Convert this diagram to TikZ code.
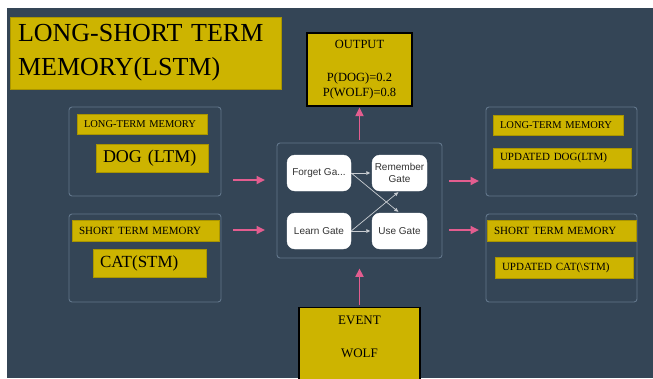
\documentclass[tikz,border=0pt]{standalone}
\usepackage{fontspec}
\setmainfont{Liberation Serif}
\newfontfamily\gatefont{Liberation Sans}
\usetikzlibrary{arrows.meta}
\definecolor{bgslate}{HTML}{344556}
\definecolor{ylw}{HTML}{CDB400}
\definecolor{ylwedge}{HTML}{A99500}
\definecolor{boxedge}{HTML}{62768B}
\definecolor{pinkarrow}{HTML}{E35D8F}
\definecolor{gatearrow}{HTML}{C9CDD2}
\definecolor{gatetext}{HTML}{333333}
\begin{document}
\begin{tikzpicture}[x=1pt,y=-1pt,
  panel/.style={draw=boxedge,line width=0.9pt,rounded corners=3pt,inner sep=0pt},
  ylabel/.style={fill=ylw,draw=ylwedge,line width=0.4pt,inner xsep=7pt,inner ysep=0pt,align=left},
  blackbox/.style={draw=black,line width=1.2pt,fill=ylw},
  gate/.style={fill=white,draw=white,rounded corners=8pt,inner sep=0pt,align=center,
    font=\gatefont\fontsize{10}{12.5}\selectfont,text=gatetext,minimum height=36pt},
  pinkarr/.style={draw=pinkarrow,line width=1.8pt,-{Triangle[length=8.5pt,width=8pt]}},
  gatearr/.style={draw=gatearrow,line width=0.7pt,-{Triangle[length=4pt,width=3.5pt]},shorten >=1.5pt}
]
\fill[white] (0,0) rectangle (653,378);
\useasboundingbox (0,0) rectangle (653,378);
\clip (0,0) rectangle (653,378);
\fill[bgslate] (7,8) rectangle (653,378);

% title
\node[ylabel,inner xsep=8pt,text width=255pt,minimum height=72pt,
  font=\fontsize{26}{34}\selectfont] (title) at (145.5,53) {LONG-SHORT TERM\\MEMORY(LSTM)};

% output
\node[blackbox,minimum width=105pt,minimum height=73pt,align=center,inner sep=0pt,
  font=\fontsize{12.5}{15}\selectfont] (output) at (359.5,69.5)
  {OUTPUT\\[18pt]P(DOG)=0.2\\P(WOLF)=0.8};

% left panels
\node[panel,minimum width=152pt,minimum height=89pt] (ltmL) at (145,151.5) {};
\node[ylabel,text width=116pt,minimum height=20pt,font=\fontsize{10.5}{12}\selectfont]
  (ltmLlab) at (142,124) {LONG-TERM MEMORY};
\node[ylabel,text width=98pt,minimum height=28pt,font=\fontsize{18}{20}\selectfont]
  (dog) at (152,158) {DOG (LTM)};
\node[panel,minimum width=152pt,minimum height=88pt] (stmL) at (145,258) {};
\node[ylabel,text width=133pt,minimum height=21pt,font=\fontsize{11}{13}\selectfont]
  (stmLlab) at (145.5,230.5) {SHORT TERM MEMORY};
\node[ylabel,text width=99pt,minimum height=28pt,font=\fontsize{17}{19}\selectfont]
  (cat) at (149.5,263) {CAT(STM)};

% center
\node[panel,minimum width=165pt,minimum height=115pt] (center) at (359.5,200.5) {};
\node[gate,minimum width=64pt] (forget) at (319,173) {Forget Ga...};
\node[gate,minimum width=55pt] (remember) at (399.5,173) {Remember\\Gate};
\node[gate,minimum width=64pt] (learn) at (319,231) {Learn Gate};
\node[gate,minimum width=55pt] (use) at (399.5,231) {Use Gate};
\draw[gatearr] (forget.east) -- (remember.west);
\draw[gatearr] (forget.east) -- (use.north);
\draw[gatearr] (learn.east) -- (remember.south);
\draw[gatearr] (learn.east) -- (use.west);

% right panels
\node[panel,minimum width=151pt,minimum height=89pt] (ltmR) at (561.5,151.5) {};
\node[ylabel,text width=116pt,minimum height=20pt,font=\fontsize{10.5}{12}\selectfont]
  (ltmRlab) at (558,125) {LONG-TERM MEMORY};
\node[ylabel,text width=124pt,minimum height=20pt,font=\fontsize{11}{13}\selectfont]
  (updog) at (562,158) {UPDATED DOG(LTM)};
\node[panel,minimum width=151pt,minimum height=88pt] (stmR) at (561.5,258) {};
\node[ylabel,text width=135pt,minimum height=21pt,font=\fontsize{11}{13}\selectfont]
  (stmRlab) at (561.5,230.5) {SHORT TERM MEMORY};
\node[ylabel,text width=124pt,minimum height=21pt,font=\fontsize{11}{13}\selectfont]
  (upcat) at (564,267.5) {UPDATED CAT(\textbackslash STM)};

% event
\node[blackbox,minimum width=121pt,anchor=north,inner xsep=0pt,inner ysep=6pt,
  font=\fontsize{13}{15.6}\selectfont] (event) at (359.5,307)
  {\begin{tabular}{@{}c@{}}EVENT\\[17pt]WOLF\\[40pt]\end{tabular}};

% pink arrows
\coordinate (la1s) at (233,180); \coordinate (la1e) at (265,180);
\coordinate (la2s) at (233,230); \coordinate (la2e) at (265,230);
\coordinate (ra1s) at (449,181); \coordinate (ra1e) at (479,181);
\coordinate (ra2s) at (449,230); \coordinate (ra2e) at (479,230);
\draw[pinkarr] (la1s) -- (la1e);
\draw[pinkarr] (la2s) -- (la2e);
\draw[pinkarr] (ra1s) -- (ra1e);
\draw[pinkarr] (ra2s) -- (ra2e);
\draw[pinkarr,shorten >=1pt] ([yshift=3pt]center.north) -- (output.south);
\draw[pinkarr] ([yshift=2pt]event.north) -- ([yshift=-10pt]center.south);
\end{tikzpicture}
\end{document}
